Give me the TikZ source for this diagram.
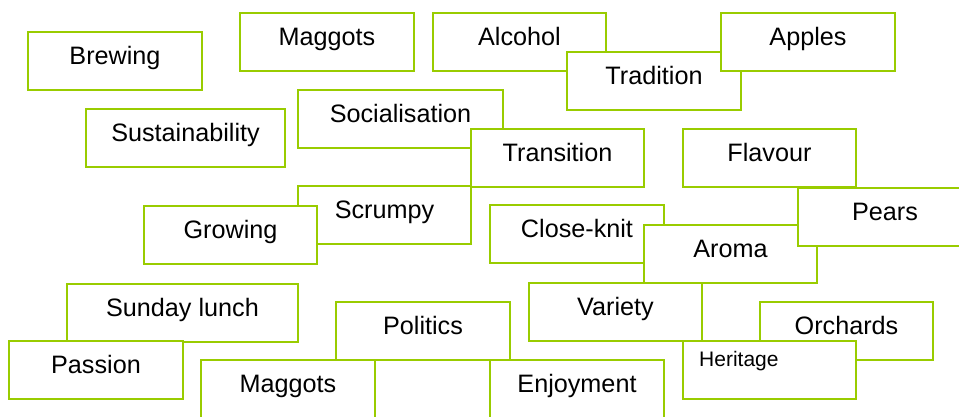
\documentclass[tikz,border=0pt]{standalone}
\usepackage{fontspec}
\setmainfont{Liberation Sans}
\definecolor{boxgreen}{HTML}{99CC00}
\tikzset{
  cbox/.style={draw=boxgreen, line width=2pt, fill=white, rectangle, inner sep=0pt, minimum height=57.5pt, anchor=north west},
  ctext/.style={anchor=base, inner sep=0pt, font=\fontsize{25.2}{30}\selectfont},
  stext/.style={anchor=base west, inner sep=0pt, font=\fontsize{21}{25}\selectfont}
}
\newcommand{\cbx}[5]{\node[cbox, minimum width=#4pt] (#1) at (#2,#3) {};
  \node[ctext] (#1-t) at ([yshift=-33pt]#1.north) {#5};}
\begin{document}
\begin{tikzpicture}[x=1pt,y=-1pt]
\useasboundingbox (0,0) rectangle (959,416);
\clip (0,0) rectangle (959,416);
\fill[white] (0,0) rectangle (959,416);
\cbx{brewing}{27}{31}{174}{Brewing}
\cbx{maggotsa}{239}{12}{174}{Maggots}
\cbx{alcohol}{432}{12}{173}{Alcohol}
\cbx{tradition}{566}{51}{174}{Tradition}
\cbx{apples}{720}{12}{174}{Apples}
\cbx{sustain}{85}{108}{199}{Sustainability}
\cbx{social}{297}{89}{205}{Socialisation}
\cbx{transition}{470}{128}{173}{Transition}
\cbx{flavour}{682}{128}{173}{Flavour}
\cbx{scrumpy}{297}{185}{173}{Scrumpy}
\cbx{growing}{143}{205}{173}{Growing}
\cbx{closeknit}{489}{204}{174}{Close-knit}
\cbx{aroma}{643}{224}{173}{Aroma}
\cbx{pears}{797}{187}{174}{Pears}
\cbx{sunday}{66}{283}{231}{Sunday lunch}
\cbx{passion}{8}{340}{174}{Passion}
\cbx{politics}{335}{301}{174}{Politics}
\cbx{variety}{528}{282}{173}{Variety}
\cbx{orchards}{759}{301}{173}{Orchards}
\node[cbox, minimum width=173pt] (heritage) at (682,340) {};
\node[stext] (heritage-t) at ([xshift=17pt,yshift=-26pt]heritage.north west) {Heritage};
\cbx{maggotsb}{200}{359}{174}{Maggots}
\cbx{enjoyment}{489}{359}{174}{Enjoyment}
\end{tikzpicture}
\end{document}
